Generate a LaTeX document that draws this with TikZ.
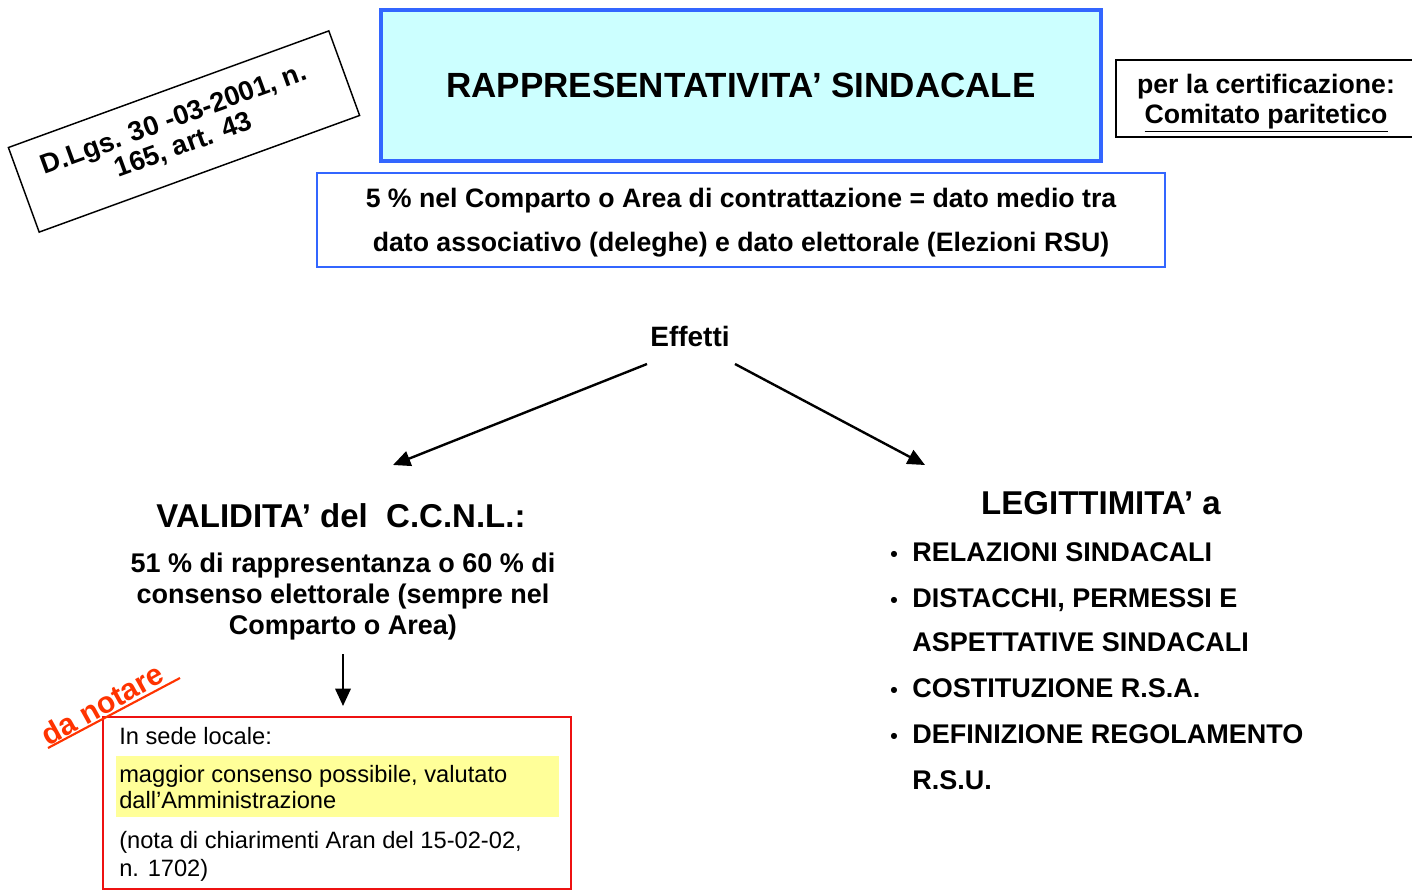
\documentclass[tikz,border=0pt]{standalone}
\usepackage{fontspec}
\setmainfont{Liberation Sans}
\usetikzlibrary{arrows.meta}
\definecolor{titleblue}{HTML}{3366FF}
\definecolor{titlefill}{HTML}{CCFFFF}
\definecolor{notered}{HTML}{FF3300}
\definecolor{boxred}{HTML}{EE1111}
\definecolor{hilite}{HTML}{FFFF99}
\newcommand\fsz[2]{\fontsize{#1}{#2}\selectfont}
\begin{document}
\begin{tikzpicture}[x=0.75pt,y=-0.75pt,
  arr/.style={-{Triangle[length=13pt,width=11.5pt]}, line width=1.8pt},
  plain/.style={inner sep=0pt},
  bul/.style={inner sep=0pt, anchor=base west, font=\fsz{20.25}{24}\bfseries},
  dot/.style={inner sep=0pt, anchor=base, font=\fsz{16}{20}\bfseries},
  redtxt/.style={inner sep=0pt, anchor=west, align=left, font=\fsz{17.75}{19.5}}]
\clip (0,0) rectangle (1412,892);

% header boxes
\node[draw=titleblue, line width=2.4pt, fill=titlefill, minimum width=540pt,
      minimum height=113.25pt] (title) at (741,85.5)
      {\fsz{26.25}{30}\bfseries RAPPRESENTATIVITA’ SINDACALE};
\node[draw=titleblue, line width=1.2pt, minimum width=636pt, minimum height=70.5pt]
      (soglia) at (741,220) {};
\node[plain, align=center, font=\fsz{20}{33}\bfseries] (sogliatxt) at (741,223)
      {5 \% nel Comparto o Area di contrattazione = dato medio tra\\
       dato associativo (deleghe) e dato elettorale (Elezioni RSU)};
\node[draw, line width=1.1pt, minimum width=228pt, minimum height=57.75pt]
      (cert) at (1268,98.5) {};
\node[plain, align=center, font=\fsz{20}{22.5}\bfseries] (certtxt) at (1266,103)
      {per la certificazione:\\\underline{Comitato paritetico}};
\node[draw, line width=1.1pt, rotate=20, minimum width=255.75pt, minimum height=67.5pt]
      (dlgs) at (184,131.5) {};
\node[plain, rotate=20, align=center, font=\fsz{20.5}{21}\bfseries] (dlgstxt) at (179,133)
      {D.Lgs. 30 -03-2001, n.\\165, art. 43};

% effects
\node[plain, font=\fsz{21}{24}\bfseries] (eff) at (690,336) {Effetti};
\coordinate (effL) at (647,364);
\coordinate (effR) at (735,364);
\coordinate (valTop) at (393,465);
\coordinate (legTop) at (925,465);
\draw[arr] (effL) -- (valTop);
\draw[arr] (effR) -- (legTop);

% left branch
\node[plain, font=\fsz{24.75}{28}\bfseries] (val) at (341,516)
      {VALIDITA’ del \ C.C.N.L.:};
\node[plain, align=center, font=\fsz{20.25}{23.25}\bfseries] (perc) at (343,597)
      {51 \% di rappresentanza o 60 \% di\\consenso elettorale (sempre nel\\Comparto o Area)};
\coordinate (percB) at (343,654);
\coordinate (localT) at (343,706);
\draw[arr] (percB) -- (localT);

\node[draw=boxred, line width=1.2pt, minimum width=351pt, minimum height=129pt]
      (local) at (337,803) {};
\node[fill=hilite, inner sep=0pt, minimum width=332.25pt, minimum height=45.75pt]
      (hl) at (337.5,786.5) {};
\node[redtxt] (sede) at (119,736) {In sede locale:};
\node[redtxt] (consenso) at (119,787)
      {maggior consenso possibile, valutato\\dall’Amministrazione};
\node[redtxt, font=\fsz{17.75}{21}] (nota) at (119,856)
      {(nota di chiarimenti Aran del 15-02-02,\\n. 1702)};

% note label
\node[plain, text=notered, rotate=29, font=\fsz{22.5}{24}\bfseries] (danot) at (102,704)
      {da notare};
\coordinate (ulA) at (48,748);
\coordinate (ulB) at (180,678);
\draw[notered, line width=1.6pt] (ulA) -- (ulB);

% right branch
\node[plain, font=\fsz{24.75}{28}\bfseries] (leg) at (1101,503) {LEGITTIMITA’ a};
\node[dot] (d1) at (894,561) {•};
\node[bul] (b1) at (912,561) {RELAZIONI SINDACALI};
\node[dot] (d2) at (894,607) {•};
\node[bul] (b2) at (912,607) {DISTACCHI, PERMESSI E};
\node[bul] (b3) at (912,651) {ASPETTATIVE SINDACALI};
\node[dot] (d4) at (894,697) {•};
\node[bul] (b4) at (912,697) {COSTITUZIONE R.S.A.};
\node[dot] (d5) at (894,743) {•};
\node[bul] (b5) at (912,743) {DEFINIZIONE REGOLAMENTO};
\node[bul] (b6) at (912,789) {R.S.U.};
\end{tikzpicture}
\end{document}
